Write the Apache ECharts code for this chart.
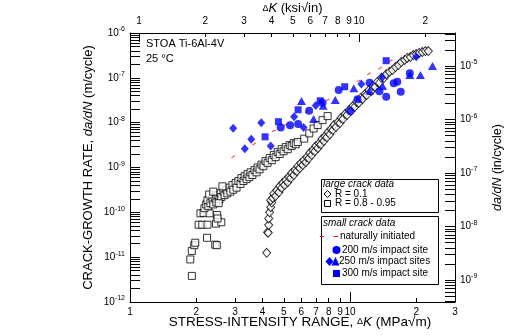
<!DOCTYPE html>
<html><head><meta charset="utf-8">
<script src="https://cdn.jsdelivr.net/npm/echarts@6/dist/echarts.min.js"></script>
<style>html,body{margin:0;padding:0;background:#fff}#c{width:506px;height:335px}</style>
</head><body><div id="c"></div>
<script>
const FONT = '"Liberation Sans", Arial, sans-serif';
const MPA_PER_KSI = 1.0988;

// tick labels
const bottomLabels = [1, 2, 3, 4, 5, 6, 7, 8, 9, 10, 20, 30];
const topLabels = [1, 2, 3, 4, 5, 6, 7, 8, 9, 10, 20];
const leftDecades = [1e-12, 1e-11, 1e-10, 1e-9, 1e-8, 1e-7, 1e-6];
const rightDecades = [1e-9, 1e-8, 1e-7, 1e-6, 1e-5];

// large crack data, R = 0.1 (open diamonds) [dK MPa√m, da/dN m/cycle]
const largeR01 = [[4.18,1.25e-11],[4.22,3.6e-11],[4.25,3.5e-11],[4.27,5.2e-11],[4.27,7.3e-11],[4.31,1.0e-10],[4.36,1.3e-10],[4.41,1.65e-10],[4.36,1.87e-10],[4.45,2.1e-10],[4.50,2.6e-10],[4.59,2.3e-10],[4.64,3.1e-10],[4.75,2.8e-10],[4.79,3.8e-10],[4.89,3.5e-10],[4.94,4.5e-10],[5.04,4.05e-10],[5.10,5.24e-10],[5.21,4.7e-10],[5.26,6.1e-10],[5.38,5.8e-10],[5.43,7.5e-10],[5.55,6.8e-10],[5.61,8.75e-10],[5.73,8.3e-10],[5.79,1.07e-9],[5.91,9.7e-10],[5.97,1.25e-9],[6.10,1.13e-9],[6.16,1.46e-9],[6.30,1.31e-9],[6.36,1.7e-9],[6.50,1.6e-9],[6.56,2.1e-9],[6.70,1.89e-9],[6.77,2.45e-9],[6.92,2.3e-9],[6.99,3.0e-9],[7.14,2.7e-9],[7.22,3.45e-9],[7.37,3.3e-9],[7.45,4.3e-9],[7.61,3.9e-9],[7.69,4.95e-9],[7.85,4.7e-9],[7.94,6.1e-9],[8.10,5.5e-9],[8.19,7.2e-9],[8.36,6.84e-9],[8.45,8.84e-9],[8.63,8.0e-9],[8.81,1.03e-8],[9.0,9.8e-9],[9.1,1.27e-8],[9.29,1.2e-8],[9.49,1.56e-8],[9.69,1.48e-8],[9.9,1.91e-8],[10.1,1.82e-8],[10.3,2.35e-8],[10.5,2.24e-8],[10.7,2.9e-8],[10.95,2.75e-8],[11.2,3.55e-8],[11.4,3.38e-8],[11.7,4.35e-8],[11.9,4.13e-8],[12.2,5.34e-8],[12.5,5.1e-8],[12.7,6.6e-8],[13.0,6.25e-8],[13.3,8.1e-8],[13.6,7.7e-8],[13.9,1.0e-7],[14.3,1.0e-7],[14.6,1.2e-7],[15.1,1.35e-7],[15.6,1.49e-7],[16.1,1.74e-7],[16.6,1.93e-7],[17.1,2.25e-7],[17.7,2.5e-7],[18.2,2.77e-7],[18.8,2.9e-7],[19.4,3.23e-7],[20.0,3.4e-7],[20.6,3.6e-7],[21.3,3.76e-7],[22.0,3.95e-7],[22.7,3.95e-7]];

// large crack data, R = 0.8 - 0.95 (open squares)
const largeR08 = [[1.91,3.82e-12],[1.88,8.9e-12],[1.91,1.38e-11],[1.96,1.85e-11],[1.98,2.1e-11],[2.24,2.7e-11],[2.44,1.9e-11],[2.48,1.85e-11],[2.05,5.3e-11],[2.13,5.3e-11],[2.25,5.3e-11],[2.46,5.6e-11],[2.60,6.0e-11],[2.09,9.5e-11],[2.16,9.7e-11],[2.30,9.5e-11],[2.49,8.7e-11],[2.50,7.3e-11],[2.18,1.24e-10],[2.22,1.5e-10],[2.27,1.37e-10],[2.25,1.87e-10],[2.32,1.6e-10],[2.37,1.96e-10],[2.39,1.5e-10],[2.44,2.05e-10],[2.47,1.66e-10],[2.50,2.42e-10],[2.55,1.96e-10],[2.58,2.66e-10],[2.60,2.2e-10],[2.66,2.9e-10],[2.69,2.42e-10],[2.74,3.2e-10],[2.77,2.66e-10],[2.83,3.56e-10],[2.86,2.9e-10],[2.92,4.05e-10],[2.95,3.2e-10],[3.02,4.5e-10],[3.05,3.56e-10],[3.11,5.0e-10],[3.18,4.3e-10],[3.21,5.8e-10],[3.28,5.0e-10],[3.32,6.4e-10],[3.39,5.5e-10],[3.42,7.1e-10],[3.49,6.1e-10],[3.53,7.8e-10],[3.60,6.8e-10],[3.68,8.75e-10],[3.76,7.8e-10],[3.80,1.0e-9],[3.88,9.1e-10],[3.96,1.16e-9],[4.04,1.07e-9],[4.13,1.39e-9],[4.22,1.27e-9],[4.31,1.63e-9],[4.41,1.46e-9],[4.50,1.89e-9],[4.59,1.7e-9],[4.69,2.2e-9],[4.79,2.0e-9],[4.89,2.56e-9],[4.99,2.3e-9],[5.10,2.85e-9],[5.21,2.56e-9],[5.32,3.16e-9],[5.43,3.0e-9],[5.55,3.5e-9],[5.67,3.3e-9],[5.79,3.7e-9],[6.19,4.4e-9],[6.53,5.77e-9],[6.83,7.4e-9],[7.13,8.84e-9],[7.5,1.14e-8],[7.91,1.4e-8],[2.29,2.5e-10],[2.39,2.9e-10],[2.63,3.8e-10],[2.53,1.6e-10]];

// small crack data
const naturalInit = [[2.944,1.73e-9],[3.66,3.33e-9],[4.51,6.6e-9],[5.07,8.84e-9],[6.36,1.75e-8],[7.91,3.19e-8],[10.94,8.57e-8],[12.2,1.23e-7],[13.7,1.63e-7],[15.3,2.4e-7]];
const impact200 = [[4.84,7.85e-9],[5.34,8.71e-9],[5.81,9.31e-9],[6.52,1.84e-8],[7.5,2.78e-8],[8.88,5.34e-8],[10.02,1.82e-8],[10.82,3.31e-8],[12.27,7.78e-8],[13.6,5.02e-8],[14.6,3.79e-8],[15.8,7.54e-8],[16.4,8.18e-8],[17.0,4.9e-8],[18.7,1.26e-7]];
const impact250Diamond = [[2.944,7.46e-9],[3.557,4.24e-9],[3.325,2.61e-9],[3.95,9.95e-9],[4.36,3.0e-9],[5.57,1.355e-8],[6.15,7.85e-9],[6.99,2.43e-8],[11.26,7.27e-8],[14.0,1.03e-7],[20.0,2.96e-7]];
const impact250Triangle = [[6.02,3.03e-8],[6.83,1.2e-8],[7.55,2.38e-8],[8.57,3.19e-8],[10.4,5.83e-8],[12.27,5.15e-8],[14.07,6.56e-8],[18.7,1.15e-7],[20.9,1.15e-7],[23.7,1.83e-7]];
const impact300 = [[4.11,4.84e-9],[4.73,1.05e-8],[5.81,1.94e-8],[7.32,3.08e-8],[9.46,6.33e-8],[14.6,2.41e-7]];

function minorTicks(decades) {
  const out = [];
  decades.forEach(d => { for (let m = 1; m <= 9; m++) out.push(d * m); });
  return out;
}
const supFmt = v => '{b|10}{s|' + Math.round(Math.log10(v)) + '}';
const supRich = {
  b: { fontSize: 10, fontFamily: FONT, color: '#000', lineHeight: 14 },
  s: { fontSize: 7, fontFamily: FONT, color: '#000', verticalAlign: 'top', lineHeight: 14 }
};
const blk = { color: '#000', width: 1 };
const kFmt = v => { const r = Math.round(v); return r >= 20 ? String(r / 10) : String(r); };

const chart = echarts.init(document.getElementById('c'), null, { renderer: 'canvas' });
const BLUE = '#0000ff';
const option = {
  animation: false,
  backgroundColor: '#fff',
  grid: { left: 130, right: 51, top: 33, bottom: 33, containLabel: false, outerBoundsMode: 'none' },
  xAxis: [
    { type: 'log', logBase: 10, min: 1, max: 30, position: 'bottom',
      axisLine: { lineStyle: blk },
      axisTick: { inside: true, length: 4, lineStyle: blk, customValues: [2,3,4,5,6,7,8,9,20] },
      axisLabel: { customValues: bottomLabels, margin: 5, fontSize: 10, fontFamily: FONT, color: '#000', hideOverlap: false, formatter: kFmt },
      splitLine: { show: false },
      name: '{n|STRESS-INTENSITY RANGE, }{d|Δ}{i|K}{n| (MPa√m)}', nameLocation: 'middle', nameGap: 13, nameMoveOverlap: false,
      nameTextStyle: { padding: [0, 0, 0, 15], rich: {
        n: { fontSize: 13.5, fontFamily: FONT, color: '#000' },
        d: { fontSize: 9, fontFamily: FONT, color: '#000' },
        i: { fontSize: 13.5, fontFamily: FONT, fontStyle: 'italic', color: '#000' } } } },
    { type: 'log', logBase: 10, min: 1, max: 30, position: 'bottom',
      axisLine: { show: false },
      axisTick: { inside: true, length: 10, lineStyle: blk, customValues: [1, 10] },
      axisLabel: { show: false }, splitLine: { show: false } },
    { type: 'log', logBase: 10, min: 1 / MPA_PER_KSI, max: 30 / MPA_PER_KSI, position: 'top',
      axisLine: { lineStyle: blk },
      axisTick: { inside: true, length: 4, lineStyle: blk, customValues: [2,3,4,5,6,7,8,9,20] },
      axisLabel: { customValues: topLabels, margin: 7, fontSize: 10, fontFamily: FONT, color: '#000', hideOverlap: false, formatter: kFmt },
      splitLine: { show: false },
      name: '{d|Δ}{i|K}{n| (ksi√in)}', nameLocation: 'middle', nameGap: 18, nameMoveOverlap: false,
      nameTextStyle: { rich: {
        n: { fontSize: 13, fontFamily: FONT, color: '#000' },
        d: { fontSize: 9, fontFamily: FONT, color: '#000' },
        i: { fontSize: 13, fontFamily: FONT, fontStyle: 'italic', color: '#000' } } } },
    { type: 'log', logBase: 10, min: 1 / MPA_PER_KSI, max: 30 / MPA_PER_KSI, position: 'top',
      axisLine: { show: false },
      axisTick: { inside: true, length: 9, lineStyle: blk, customValues: [1, 10] },
      axisLabel: { show: false }, splitLine: { show: false } }
  ],
  yAxis: [
    { type: 'log', logBase: 10, min: 1e-12, max: 1e-6, position: 'left',
      axisLine: { show: true, lineStyle: blk },
      axisTick: { show: true, inside: true, length: 10, lineStyle: blk, customValues: minorTicks(leftDecades.slice(0, 6)).concat([1e-6]) },
      axisLabel: { customValues: leftDecades, margin: 5, formatter: supFmt, rich: supRich },
      splitLine: { show: false },
      name: '{n|CRACK-GROWTH RATE, }{i|da/dN}{n| (m/cycle)}', nameLocation: 'middle', nameGap: 35, nameMoveOverlap: false,
      nameTextStyle: { rich: {
        n: { fontSize: 13, fontFamily: FONT, color: '#000' },
        i: { fontSize: 13, fontFamily: FONT, fontStyle: 'italic', color: '#000' } } } },
    { type: 'log', logBase: 10, min: 3.88e-10, max: 4.14e-5, position: 'right',
      axisLine: { show: true, lineStyle: blk },
      axisTick: { show: true, inside: true, length: 10, lineStyle: blk, customValues: minorTicks([1e-10, 1e-9, 1e-8, 1e-7, 1e-6, 1e-5]) },
      axisLabel: { customValues: rightDecades, margin: 5, formatter: supFmt, rich: supRich },
      splitLine: { show: false },
      name: '{i|da/dN}{n| (in/cycle)}', nameLocation: 'middle', nameGap: 36, nameMoveOverlap: false,
      nameTextStyle: { rich: {
        n: { fontSize: 12.5, fontFamily: FONT, color: '#000' },
        i: { fontSize: 12.5, fontFamily: FONT, fontStyle: 'italic', color: '#000' } } } }
  ],
  series: [
    { name: 'R = 0.8 - 0.95', type: 'scatter', data: largeR08, symbol: 'rect', symbolSize: 7,
      itemStyle: { color: '#fff', borderColor: '#000', borderWidth: 1 }, z: 2 },
    { name: 'R = 0.1', type: 'scatter', data: largeR01, symbol: 'diamond', symbolSize: [8, 9],
      itemStyle: { color: '#fff', borderColor: '#000', borderWidth: 1 }, z: 3 },
    { name: 'naturally initiated', type: 'scatter', data: naturalInit, symbol: 'rect', symbolSize: [4, 1], symbolRotate: 31,
      itemStyle: { color: '#ff0000' }, z: 4 },
    { name: '200 m/s impact site', type: 'scatter', data: impact200, symbol: 'circle', symbolSize: 8,
      itemStyle: { color: BLUE }, z: 5 },
    { name: '250 m/s impact sites (diamond)', type: 'scatter', data: impact250Diamond, symbol: 'diamond', symbolSize: [8, 9],
      itemStyle: { color: BLUE }, z: 5 },
    { name: '250 m/s impact sites (triangle)', type: 'scatter', data: impact250Triangle, symbol: 'triangle', symbolSize: [9, 8],
      itemStyle: { color: BLUE }, z: 5 },
    { name: '300 m/s impact site', type: 'scatter', data: impact300, symbol: 'rect', symbolSize: 7,
      itemStyle: { color: BLUE }, z: 5 }
  ],
  graphic: [
    { type: 'text', left: 146, top: 38, style: { text: 'STOA Ti-6Al-4V', fontSize: 11, fontFamily: FONT, fill: '#000' } },
    { type: 'text', left: 146, top: 53, style: { text: '25 °C', fontSize: 11, fontFamily: FONT, fill: '#000' } },
    { type: 'rect', shape: { x: 321.5, y: 179.5, width: 117, height: 33 }, style: { fill: '#fff', stroke: '#000', lineWidth: 1 }, z: 10 },
    { type: 'text', x: 323, y: 184, z: 11, style: { text: 'large crack data', fontSize: 10, fontStyle: 'italic', fontFamily: FONT, fill: '#000', verticalAlign: 'middle' } },
    { type: 'polygon', z: 11, shape: { points: [[327.5, 190.5], [331, 194], [327.5, 197.5], [324, 194]] }, style: { fill: '#fff', stroke: '#000', lineWidth: 1 } },
    { type: 'text', x: 335, y: 194, z: 11, style: { text: 'R = 0.1', fontSize: 10, fontFamily: FONT, fill: '#000', verticalAlign: 'middle' } },
    { type: 'rect', z: 11, shape: { x: 324.5, y: 200.5, width: 6, height: 6 }, style: { fill: '#fff', stroke: '#000', lineWidth: 1 } },
    { type: 'text', x: 335, y: 203.5, z: 11, style: { text: 'R = 0.8 - 0.95', fontSize: 10, fontFamily: FONT, fill: '#000', verticalAlign: 'middle' } },
    { type: 'rect', shape: { x: 321.5, y: 216.5, width: 117, height: 68 }, style: { fill: '#fff', stroke: '#000', lineWidth: 1 }, z: 10 },
    { type: 'text', x: 323, y: 223.5, z: 11, style: { text: 'small crack data', fontSize: 10, fontStyle: 'italic', fontFamily: FONT, fill: '#000', verticalAlign: 'middle' } },
    { type: 'line', z: 11, shape: { x1: 320, y1: 236.5, x2: 324, y2: 236.5 }, style: { stroke: '#ff0000', lineWidth: 1 } },
    { type: 'line', z: 11, shape: { x1: 334, y1: 236.5, x2: 338, y2: 236.5 }, style: { stroke: '#ff0000', lineWidth: 1 } },
    { type: 'text', x: 340, y: 236.5, z: 11, style: { text: 'naturally initiated', fontSize: 10, fontFamily: FONT, fill: '#000', verticalAlign: 'middle' } },
    { type: 'circle', z: 11, shape: { cx: 336.5, cy: 250, r: 4 }, style: { fill: BLUE } },
    { type: 'text', x: 342, y: 250, z: 11, style: { text: '200 m/s impact site', fontSize: 10, fontFamily: FONT, fill: '#000', verticalAlign: 'middle' } },
    { type: 'polygon', z: 11, shape: { points: [[329.5, 257], [333.5, 261.5], [329.5, 266], [325.5, 261.5]] }, style: { fill: BLUE } },
    { type: 'polygon', z: 11, shape: { points: [[335.5, 257], [339.5, 265.5], [331.5, 265.5]] }, style: { fill: BLUE } },
    { type: 'text', x: 339, y: 261.5, z: 11, style: { text: '250 m/s impact sites', fontSize: 10, fontFamily: FONT, fill: '#000', verticalAlign: 'middle' } },
    { type: 'rect', z: 11, shape: { x: 333, y: 270, width: 7, height: 7 }, style: { fill: BLUE } },
    { type: 'text', x: 342, y: 273.5, z: 11, style: { text: '300 m/s impact site', fontSize: 10, fontFamily: FONT, fill: '#000', verticalAlign: 'middle' } }
  ]
};
chart.setOption(option);
</script>
</body></html>
